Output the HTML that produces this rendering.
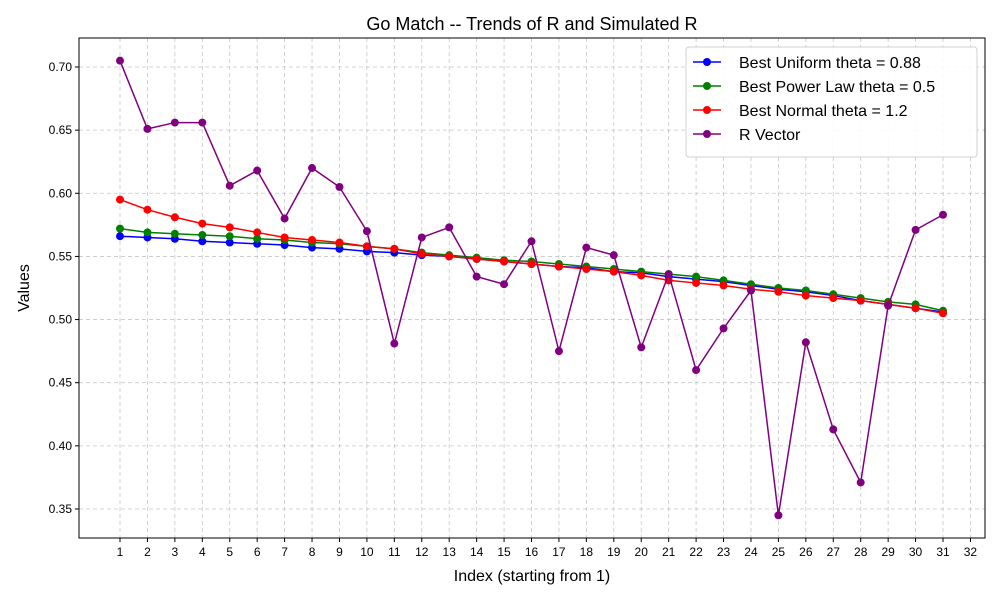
<!DOCTYPE html>
<html><head><meta charset="utf-8"><style>body{margin:0;background:#fff}svg{display:block;font-family:"Liberation Sans",sans-serif}</style></head>
<body>
<svg id="chart" width="1000" height="600"></svg>
<script>
const categories = Array.from({length:31},(_,i)=>i+1);
const uniformValues = [.566,.565,.564,.562,.561,.560,.559,.557,.556,.554,.553,.551,.550,.548,.546,.544,.542,.541,.538,.537,.534,.532,.530,.527,.524,.522,.519,.515,.512,.509,.506];
const powerValues = [.572,.569,.568,.567,.566,.564,.563,.561,.560,.558,.556,.553,.551,.549,.547,.546,.544,.542,.540,.538,.536,.534,.531,.528,.525,.523,.520,.517,.514,.512,.507];
const normalValues = [.595,.587,.581,.576,.573,.569,.565,.563,.561,.558,.556,.552,.550,.548,.546,.544,.542,.540,.538,.535,.531,.529,.527,.524,.522,.519,.517,.515,.512,.509,.505];
const rValues = [.705,.651,.656,.656,.606,.618,.580,.620,.605,.570,.481,.565,.573,.534,.528,.562,.475,.557,.551,.478,.536,.460,.493,.523,.345,.482,.413,.371,.511,.571,.583];
const xTicks = Array.from({length:32},(_,i)=>i+1);
const yTicks = [0.35,0.40,0.45,0.50,0.55,0.60,0.65,0.70];
const seriesNames = ["Best Uniform theta = 0.88","Best Power Law theta = 0.5","Best Normal theta = 1.2","R Vector"];
const seriesColors = ["#0000ff","#008000","#ff0000","#800080"];

const L=79,R=985,T=38,B=538;
const x=v=>120+(v-1)*(943-120)/30;
const y=v=>67+(0.70-v)*1262.8;
const svg=document.getElementById('chart');
const NS="http://www.w3.org/2000/svg";
function mk(t,a,p){const e=document.createElementNS(NS,t);for(const k in a)e.setAttribute(k,a[k]);(p||svg).appendChild(e);return e;}

const grid=mk('g',{});


xTicks.forEach(t=>{
  mk('line',{x1:x(t),x2:x(t),y1:T,y2:B,stroke:'#b0b0b0','stroke-dasharray':'4,3','stroke-width':0.8,opacity:0.7},grid);
  mk('line',{x1:x(t),x2:x(t),y1:B,y2:B+4,stroke:'#000'});
  const tx=mk('text',{x:x(t),y:B+18,'text-anchor':'middle','font-size':12});tx.textContent=t;
  
  
});
yTicks.forEach(t=>{
  mk('line',{x1:L,x2:R,y1:y(t),y2:y(t),stroke:'#b0b0b0','stroke-dasharray':'4,3','stroke-width':0.8,opacity:0.7},grid);
  mk('line',{x1:L-4,x2:L,y1:y(t),y2:y(t),stroke:'#000'});
  const tx=mk('text',{x:L-7,y:y(t)+4,'text-anchor':'end','font-size':12});tx.textContent=t.toFixed(2);
  
  
});
const frame=mk('rect',{x:L,y:T,width:R-L,height:B-T,fill:'none',stroke:'#000','stroke-width':1});



[uniformValues,powerValues,normalValues,rValues].forEach((vals,si)=>{
  const g=mk('g',{});
  
  
  mk('polyline',{points:vals.map((v,i)=>x(categories[i])+','+y(v)).join(' '),fill:'none',stroke:seriesColors[si],'stroke-width':1.5},g);
  vals.forEach((v,i)=>{
    const c=mk('circle',{cx:x(categories[i]),cy:y(v),r:4,fill:seriesColors[si]},g);
    
    
  });
});

const title=mk('text',{x:532,y:30,'text-anchor':'middle','font-size':18});title.textContent="Go Match -- Trends of R and Simulated R";


const xl=mk('text',{x:532,y:581,'text-anchor':'middle','font-size':16});xl.textContent="Index (starting from 1)";


const yl=mk('text',{x:29,y:288,'text-anchor':'middle','font-size':16,transform:'rotate(-90 29 288)'});yl.textContent="Values";



const lg=mk('g',{});


mk('rect',{x:686,y:47,width:291,height:110,rx:3,fill:'#fff',stroke:'#ccc',opacity:0.9},lg);
seriesNames.forEach((n,i)=>{
  const yy=62+i*24;
  const e=mk('g',{},lg);
  
  
  mk('line',{x1:693,x2:721,y1:yy,y2:yy,stroke:seriesColors[i],'stroke-width':1.5},e);
  mk('circle',{cx:707,cy:yy,r:4,fill:seriesColors[i]},e);
  const t=mk('text',{x:739,y:yy+6,'font-size':16},e);t.textContent=n;
});
</script>
</body></html>
